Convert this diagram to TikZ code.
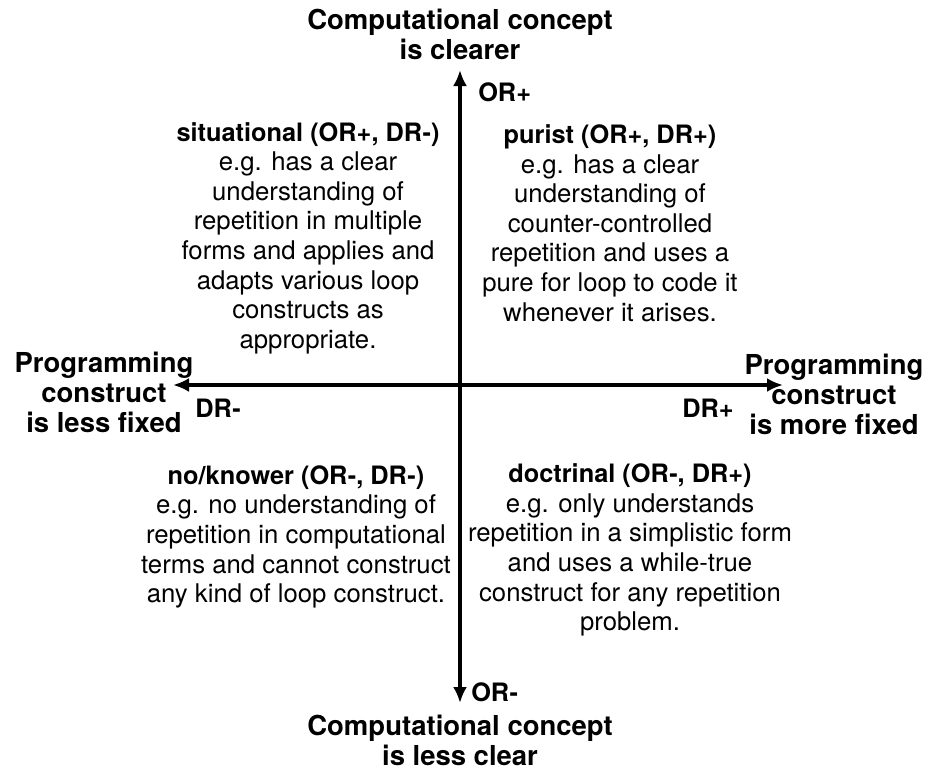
\documentclass[tikz,border=0pt]{standalone}
\usepackage{fontspec}
\setmainfont{TeX Gyre Heros}
\usetikzlibrary{arrows.meta}
\newcommand{\quadhead}[1]{{\fontsize{19}{22.2}\selectfont\bfseries #1}}
\begin{document}
\begin{tikzpicture}[x=0.75pt, y=-0.75pt,
  axis/.style={line width=2.6pt, {Latex[length=12pt,width=10.5pt]}-{Latex[length=12pt,width=10.5pt]}},
  heading/.style={align=center, inner sep=0pt, font=\fontsize{20.6}{22.5}\selectfont\bfseries},
  quad/.style={align=center, inner sep=0pt, font=\fontsize{19.3}{22.2}\selectfont},
  tag/.style={inner sep=0pt, font=\fontsize{19}{22}\selectfont\bfseries}]
\useasboundingbox (0,0) rectangle (936,771);

% axes
\coordinate (ortop) at (460,70);
\coordinate (orbot) at (460,703);
\coordinate (drleft) at (173,385);
\coordinate (drright) at (783,385);
\draw[axis] (orbot) -- (ortop);
\draw[axis] (drleft) -- (drright);

% axis ends
\node[heading] (clearer) at (460,34) {Computational concept\\is clearer};
\node[heading] (lessclear) at (460,740) {Computational concept\\is less clear};
\node[heading] (lessfixed) at (104,392) {Programming\\construct\\is less fixed};
\node[heading] (morefixed) at (834,394) {Programming\\construct\\is more fixed};

\node[tag, anchor=west] (orplus) at (478,92) {OR+};
\node[tag, anchor=west] (orminus) at (471,692) {OR-};
\node[tag] (drminus) at (218,408) {DR-};
\node[tag] (drplus) at (708,408) {DR+};

% quadrants
\node[quad] (situational) at (308,238)
{\quadhead{situational (OR+, DR-)}\\e.g. has a clear\\understanding of\\repetition in multiple\\forms and applies and\\adapts various loop\\constructs as\\appropriate.};

\node[quad] (purist) at (610,223)
{\quadhead{purist (OR+, DR+)}\\e.g. has a clear\\understanding of\\counter-controlled\\repetition and uses a\\pure for loop to code it\\whenever it arises.};

\node[quad] (noknower) at (296,537)
{\quadhead{no/knower (OR-, DR-)}\\e.g. no understanding of\\repetition in computational\\terms and cannot construct\\any kind of loop construct.};

\node[quad] (doctrinal) at (630,550)
{\quadhead{doctrinal (OR-, DR+)}\\e.g. only understands\\repetition in a simplistic form\\and uses a while-true\\construct for any repetition\\problem.};
\end{tikzpicture}
\end{document}
